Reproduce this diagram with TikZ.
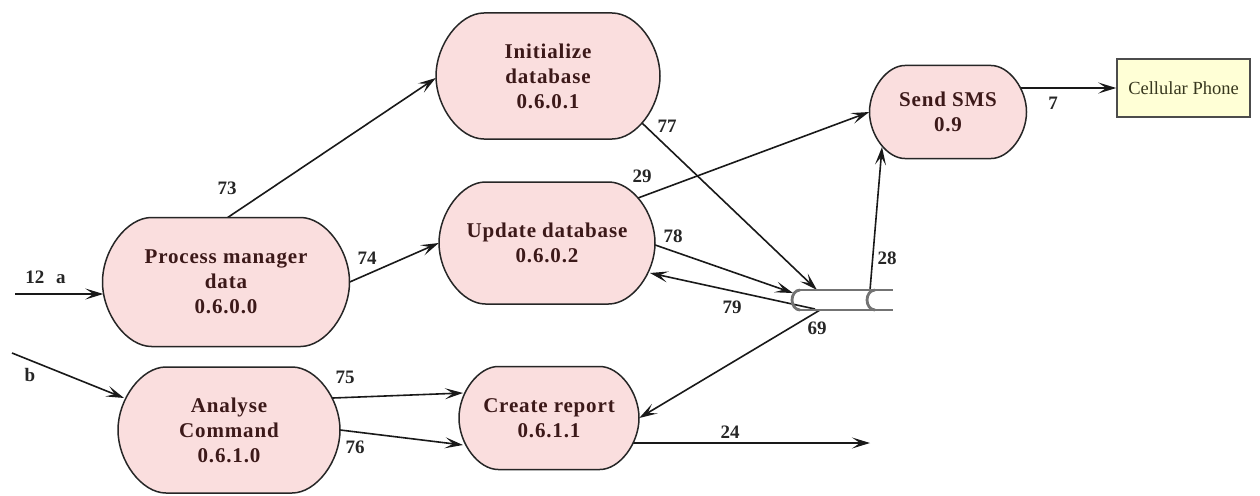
\documentclass[tikz,border=0pt]{standalone}
\usepackage{fontspec}
\setmainfont{Liberation Serif}
\newfontfamily\procfont{Liberation Serif}[LetterSpace=4]
\usetikzlibrary{arrows.meta,calc}
\pgfdeclarelayer{paper}
\pgfdeclarelayer{wires}
\pgfsetlayers{paper,wires,main}
\definecolor{pinkfill}{RGB}{250,222,222}
\definecolor{yelfill}{RGB}{255,255,214}
\definecolor{txtbrown}{RGB}{60,25,25}
\definecolor{dsgray}{RGB}{115,115,115}
\definecolor{olivetext}{RGB}{55,55,30}
\tikzset{
 conn/.style={draw=black!90, line width=1.6pt, shorten <=-6pt, -{Stealth[length=18pt,width=11pt,inset=8pt]}},
 elabel/.style={font=\fontsize{19}{22}\selectfont\bfseries, text=black!85, inner sep=0pt},
 proctext/.style={font=\procfont\fontsize{21}{25}\selectfont\bfseries, text=txtbrown, align=center, inner sep=0pt},
 procline/.style={draw=black!85, line width=1.5pt, fill=pinkfill},
 extbox/.style={draw=black!70, line width=1.6pt, fill=yelfill, font=\fontsize{18.5}{22}\selectfont, text=olivetext, minimum width=133, minimum height=58, inner sep=0pt},
 dsline/.style={draw=dsgray, line width=2.8pt}
}
\newcommand\procbox[6]{%
 \pgfmathsetmacro\rxv{0.38*#5}%
 \pgfmathsetmacro\hw{#4/2-\rxv}%
 \pgfmathsetmacro\hh{#5/2}%
 \pgfmathsetmacro\cxa{0.5*\rxv}%
 \pgfmathsetmacro\cya{0.5*\hh}%
 \draw[procline] (#2-\hw, #3-\hh) -- (#2+\hw, #3-\hh)
   .. controls (#2+\hw+\cxa, #3-\hh) and (#2+\hw+\rxv, #3-\cya) .. (#2+\hw+\rxv, #3)
   .. controls (#2+\hw+\rxv, #3+\cya) and (#2+\hw+\cxa, #3+\hh) .. (#2+\hw, #3+\hh)
   -- (#2-\hw, #3+\hh)
   .. controls (#2-\hw-\cxa, #3+\hh) and (#2-\hw-\rxv, #3+\cya) .. (#2-\hw-\rxv, #3)
   .. controls (#2-\hw-\rxv, #3-\cya) and (#2-\hw-\cxa, #3-\hh) .. (#2-\hw, #3-\hh) -- cycle;
 \node[proctext, minimum width=#4, minimum height=#5] (#1) at (#2,#3) {#6};
}
\begin{document}
\begin{tikzpicture}[x=1pt,y=-1pt]
\begin{pgfonlayer}{paper}
\fill[white] (0,0) rectangle (1260,495);
\end{pgfonlayer}
\useasboundingbox (0,0) rectangle (1260,495);

\procbox{pm}{226}{282}{247}{129}{Process manager\\data\\0.6.0.0}
\procbox{id}{548}{76}{224}{126}{Initialize\\database\\0.6.0.1}
\procbox{ud}{547}{243}{216}{122}{Update database\\0.6.0.2}
\procbox{ac}{229}{430}{222}{126}{Analyse\\Command\\0.6.1.0}
\procbox{cr}{549}{418}{180}{103}{Create report\\0.6.1.1}
\procbox{ss}{948}{112}{157}{93}{Send SMS\\0.9}

\node[extbox] (cp) at (1183.5,88) {Cellular Phone};

% data store
\node[minimum width=104, minimum height=20, inner sep=0pt] (ds) at (841,300) {};
\draw[dsline] ($(ds)+(-41,-10)$) -- ($(ds)+(52,-10)$);
\draw[dsline] ($(ds)+(-41,10)$) -- ($(ds)+(52,10)$);
\draw[dsline] ($(ds)+(-41,10)$) arc[start angle=90, end angle=270, x radius=8, y radius=10];
\draw[dsline] ($(ds)+(34,10)$) arc[start angle=90, end angle=270, x radius=8, y radius=10];

% free ends
\coordinate (in12) at (15,294);
\coordinate (inb) at (12,353);
\coordinate (out24) at (870,443);

% connectors
\begin{pgfonlayer}{wires}
\draw[conn, shorten <=0pt] (in12) -- ($(pm.west)+(1,12)$);
\draw[conn] ($(pm.north)+(2,0)$) -- ($(id.west)+(0,2)$);
\draw[conn] (pm.east) -- (ud.west);
\draw[conn, shorten <=0pt] (inb) -- ($(ac)+(-105,-32)$);
\draw[conn] ($(ac)+(104,-32)$) -- ($(cr)+(-86,-25)$);
\draw[conn] (ac.east) -- ($(cr)+(-86,27)$);
\draw[conn] ($(cr)+(86,25)$) -- (out24);
\draw[conn] ($(id)+(94,47)$) -- ($(ds)+(-24,-10)$);
\draw[conn] ($(ud)+(91,-45)$) -- (ss.west);
\draw[conn] ($(ud.east)+(0,2)$) -- ($(ds)+(-48,-7)$);
\draw[conn, shorten <=0pt] ($(ds)+(-26,9)$) -- ($(ud)+(103,30)$);
\draw[conn, shorten <=0pt] ($(ds)+(-21,10)$) -- (cr.east);
\draw[conn, shorten <=0pt] ($(ds)+(29,-10)$) -- ($(ss)+(-66,35)$);
\draw[conn] ($(ss)+(75,-24)$) -- (cp.west);
\end{pgfonlayer}

% labels
\node[elabel] (l12) at (45.5,277) {12\hspace{12pt}a};
\node[elabel] (l73) at (227,188) {73};
\node[elabel] (l74) at (367,258) {74};
\node[elabel] (lb) at (30,375) {b};
\node[elabel] (l75) at (345,377) {75};
\node[elabel] (l76) at (355,447) {76};
\node[elabel] (l24) at (730,432) {24};
\node[elabel] (l77) at (667,126) {77};
\node[elabel] (l29) at (642,176) {29};
\node[elabel] (l78) at (673,236) {78};
\node[elabel] (l79) at (732,307) {79};
\node[elabel] (l69) at (817,328) {69};
\node[elabel] (l28) at (887,258) {28};
\node[elabel] (l7) at (1053,103) {7};
\end{tikzpicture}
\end{document}
